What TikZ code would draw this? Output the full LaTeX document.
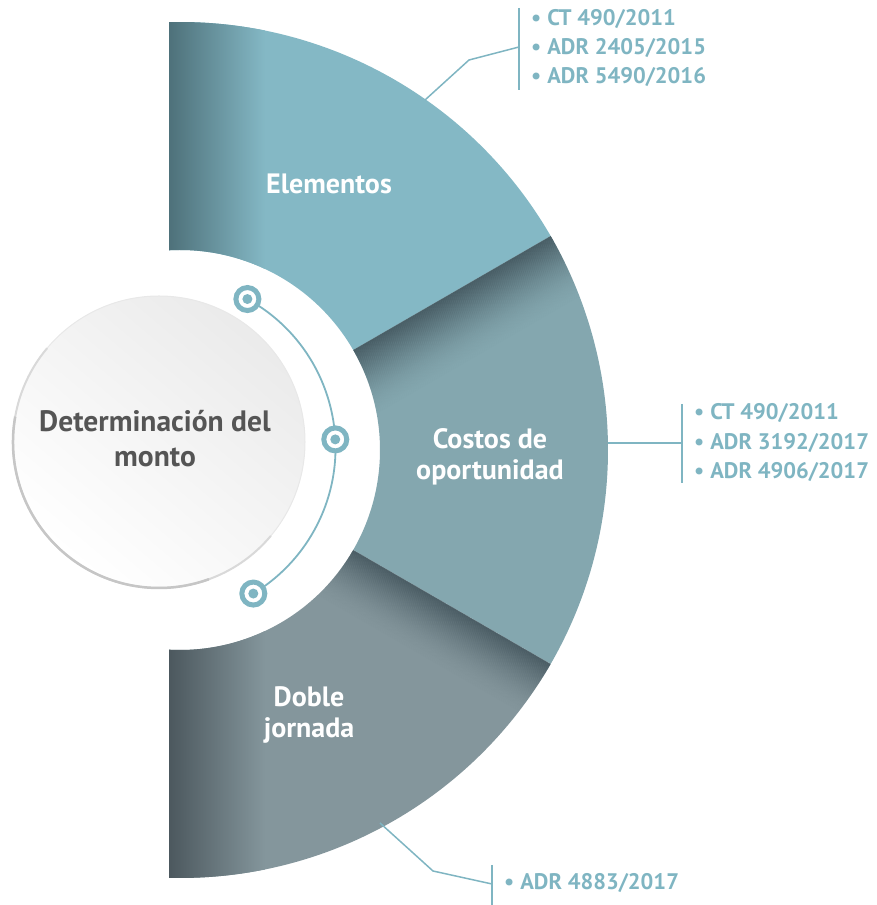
\documentclass[tikz,border=0pt]{standalone}
\usepackage{fontspec}
\setmainfont{PT Sans}
\usetikzlibrary{calc}
\definecolor{topc}{HTML}{84B8C5}
\definecolor{topdark}{HTML}{4E717A}
\definecolor{midc}{HTML}{84A7AF}
\definecolor{middark}{HTML}{3E5058}
\definecolor{botc}{HTML}{84969C}
\definecolor{botdark}{HTML}{4C585E}
\definecolor{refc}{HTML}{7FB5C2}
\definecolor{txtgray}{HTML}{555555}
\begin{document}
\begin{tikzpicture}[x=1pt,y=1pt,
  reflist/.style={anchor=west, text=refc, font=\fontsize{22.5}{22}\selectfont\bfseries, inner sep=0pt},
  seglabel/.style={text=white, font=\fontsize{28}{31}\selectfont\bfseries, align=center, inner sep=0pt},
  centerlabel/.style={text=txtgray, font=\fontsize{29.5}{35}\selectfont\bfseries, align=center, inner sep=0pt},
  conn/.style={draw=refc, line width=1.5pt},
  bar/.style={draw=refc, line width=2pt},
  ringmark/.style={draw=refc, line width=5pt, fill=white, circle, minimum size=23pt, inner sep=0pt},
  ]
\useasboundingbox (0,0) rectangle (876,905);
\begin{scope}[shift={(180,455)}]
  % top segment
  \begin{scope}
    \clip (91.47:428) arc[start angle=91.47,end angle=30,radius=428] -- (30:200) arc[start angle=30,end angle=93.15,radius=200] -- cycle;
    \fill[topc] (-20,-10) rectangle (450,450);
    \shade[left color=topdark, right color=topc] (-11,-10) rectangle (85,450);
  \end{scope}
  % middle segment
  \begin{scope}
    \clip (30:428) arc[start angle=30,end angle=-30,radius=428] -- (-30:200) arc[start angle=-30,end angle=30,radius=200] -- cycle;
    \fill[midc] (0,-250) rectangle (450,250);
    \foreach \i in {0,...,69} {
      \pgfmathsetmacro{\op}{0.75*(1-\i/70)^2}
      \fill[middark, opacity=\op, rotate=30] (0,-\i-1.3) rectangle (450,-\i);
    }
  \end{scope}
  % bottom segment
  \begin{scope}
    \clip (-30:428) arc[start angle=-30,end angle=-91.47,radius=428] -- (-93.15:200) arc[start angle=-93.15,end angle=-30,radius=200] -- cycle;
    \fill[botc] (-20,-450) rectangle (450,10);
    \shade[left color=botdark, right color=botc] (-11,-450) rectangle (85,10);
    \foreach \i in {0,...,59} {
      \pgfmathsetmacro{\op}{0.7*(1-\i/60)^2}
      \fill[middark, opacity=\op, rotate=-30] (120,-\i-1.3) rectangle (450,-\i);
    }
  \end{scope}
\end{scope}

% segment labels
\node[seglabel] (elem) at (329,721) {Elementos};
\node[seglabel] (cost) at (490,448) {Costos de\\oportunidad};
\node[seglabel] (doble) at (309,190) {Doble\\jornada};

% central circle
\coordinate (cc) at (159,463);
\shade[top color=gray!16, bottom color=white, shading angle=-40] (cc) circle[radius=146];
\draw[gray!18, line width=1pt] (cc) circle[radius=146];
\draw[gray!30, line width=2pt] ($(cc)+(140:146)$) arc[start angle=140,end angle=320,radius=146];
\draw[gray!45, line width=2.5pt] ($(cc)+(170:146)$) arc[start angle=170,end angle=290,radius=146];
\node[centerlabel] (det) at (155,466) {Determinación del\\monto};

% thin arc with markers
\coordinate (ac) at (165.5,457);
\draw[refc, line width=1.8pt] ($(ac)+(61.2:170)$) arc[start angle=61.2,end angle=-58.9,radius=170];
\node[ringmark] (m1) at ($(ac)+(61.2:170)$) {};
\node[ringmark] (m2) at ($(ac)+(2.9:170)$) {};
\node[ringmark] (m3) at ($(ac)+(-58.9:170)$) {};
\fill[refc] (m1) circle[radius=5];
\fill[refc] (m2) circle[radius=5];
\fill[refc] (m3) circle[radius=5];

% connectors
\coordinate (o1) at (425,805);
\coordinate (k1) at (469,845);
\coordinate (b1t) at (519,897);
\coordinate (b1b) at (519,815);
\coordinate (b1m) at (519,858);
\draw[conn] (o1) -- (k1) -- (b1m);
\draw[bar] (b1t) -- (b1b);

\coordinate (o2) at (608,462);
\coordinate (b2t) at (682,501);
\coordinate (b2b) at (682,422);
\coordinate (b2m) at (682,462);
\draw[conn] (o2) -- (b2m);
\draw[bar] (b2t) -- (b2b);

\coordinate (o3) at (380,82);
\coordinate (k3) at (433,34);
\coordinate (b3t) at (492,40);
\coordinate (b3b) at (492,0);
\coordinate (b3m) at (492,21);
\draw[conn] (o3) -- (k3) -- (b3m);
\draw[bar] (b3t) -- (b3b);

% reference lists
\node[reflist] (r11) at (531,886) {•\hspace{6pt}CT 490/2011};
\node[reflist] (r12) at (531,857) {•\hspace{6pt}ADR 2405/2015};
\node[reflist] (r13) at (531,828) {•\hspace{6pt}ADR 5490/2016};
\node[reflist] (r21) at (694,492) {•\hspace{6pt}CT 490/2011};
\node[reflist] (r22) at (694,462) {•\hspace{6pt}ADR 3192/2017};
\node[reflist] (r23) at (694,433) {•\hspace{6pt}ADR 4906/2017};
\node[reflist] (r31) at (504,22) {•\hspace{6pt}ADR 4883/2017};
\end{tikzpicture}
\end{document}
